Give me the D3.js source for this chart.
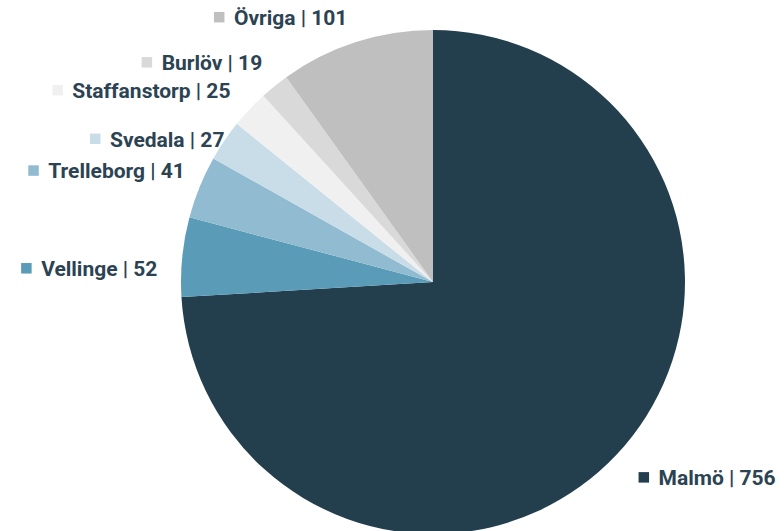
<!DOCTYPE html>
<html><head><meta charset="utf-8">
<script src="https://cdn.jsdelivr.net/npm/d3@7"></script>
<style>html,body{margin:0;padding:0;background:#fff;}svg{display:block;}</style>
</head><body>
<svg id="chart" width="784" height="531"></svg>
<script>
const categories = ["Malmö","Vellinge","Trelleborg","Svedala","Staffanstorp","Burlöv","Övriga"];
const values = [756,52,41,27,25,19,101];
const colors = ["#233f4e","#5a9bb8","#90bbd0","#c9dde8","#f0f0f0","#d9d9d9","#bfbfbf"];
// label nudges (layout only)
const labelNudge = [[9,18],[-7,21],[2,-2],[15,16],[-6,1],[-1,-2],[-3,0]];

const svg = d3.select("#chart");
const cx = 433, cy = 282, R = 252, LR = 270;
const data = categories.map((c,i)=>({name:c, value:values[i], color:colors[i], i}));
const pie = d3.pie().value(d=>d.value).sort(null);
const arcs = pie(data);
const arc = d3.arc().innerRadius(0).outerRadius(R);
const g = svg.append("g").attr("transform",`translate(${cx},${cy})`);
g.selectAll("path").data(arcs).join("path").attr("d",arc).attr("fill",d=>d.data.color);

const textColor = "#2b4352";
arcs.forEach(a=>{
  const mid = (a.startAngle+a.endAngle)/2;
  const x = cx + LR*Math.sin(mid) + labelNudge[a.data.i][0];
  const y = cy - LR*Math.cos(mid) + labelNudge[a.data.i][1];
  const right = Math.sin(mid) > 0;
  const t = svg.append("text")
    .attr("x", right ? x+20 : x).attr("y", y)
    .attr("text-anchor", right ? "start" : "end")
    .attr("font-family","Roboto, sans-serif").attr("font-weight",700)
    .attr("font-size",21).attr("fill",textColor)
    .text(`${a.data.name} | ${a.data.value}`);
  const w = t.node().getComputedTextLength();
  const sx = right ? x : x - w - 20;
  svg.append("rect").attr("x",sx).attr("y",y-13).attr("width",10.5).attr("height",10.5).attr("fill",a.data.color);
});
</script>
</body></html>
